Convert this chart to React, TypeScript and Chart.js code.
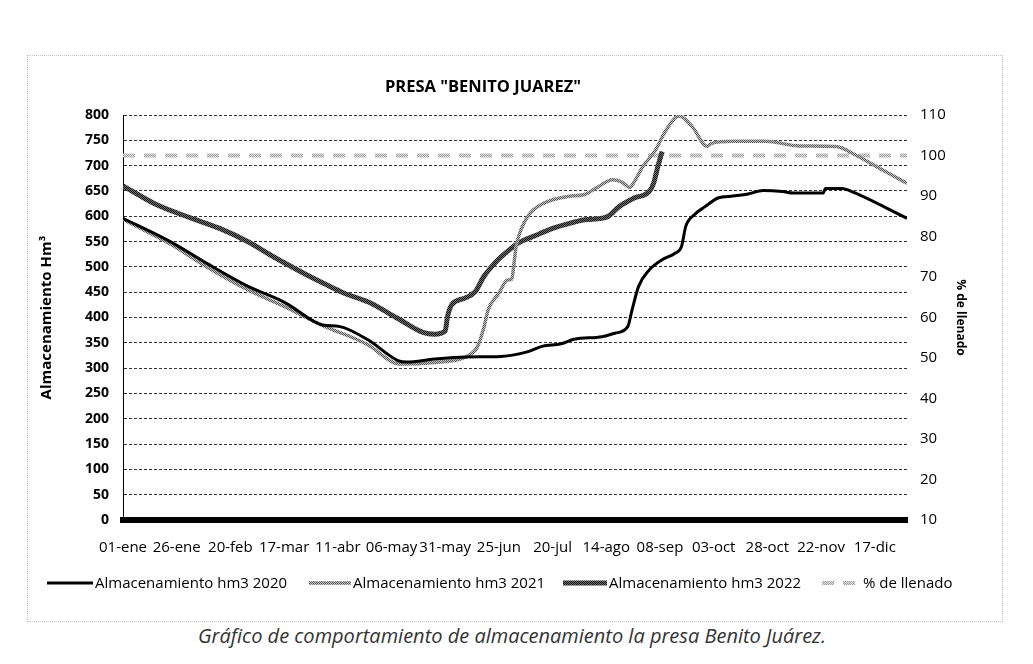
import React, { useEffect, useRef } from "react";
import { Chart, registerables } from "chart.js";

Chart.register(...registerables);

// ---------- DATA ----------
const xTickLabels = [
  "01-ene", "26-ene", "20-feb", "17-mar", "11-abr", "06-may", "31-may", "25-jun",
  "20-jul", "14-ago", "08-sep", "03-oct", "28-oct", "22-nov", "17-dic",
];

const days2020 = [0, 22, 39, 58, 76, 89, 93, 101, 114, 128, 132, 145, 160, 176, 189, 195, 204, 210, 223, 229, 235, 237, 240, 245, 251, 257, 260, 262, 266, 271, 277, 284, 291, 298, 307, 312, 326, 327, 335, 338, 365];
const storage2020 = [596, 550, 507, 462, 428, 392, 385, 382, 356, 315, 312, 318, 322, 323, 333, 343, 348, 357, 362, 369, 382, 415, 461, 494, 514, 527, 540, 580, 603, 619, 636, 640, 644, 651, 649, 646, 646, 655, 655, 651, 596];

const days2021 = [0, 22, 39, 58, 76, 89, 98, 103, 114, 126, 131, 145, 157, 162, 165, 168, 170, 175, 179, 181, 182, 183, 185, 189, 196, 207, 215, 220, 228, 232, 236, 238, 242, 248, 252, 257, 259, 265, 272, 274, 284, 299, 315, 332, 341, 350, 365];
const storage2021 = [594, 545, 500, 455, 420, 392, 375, 367, 346, 311, 308, 311, 318, 328, 342, 380, 415, 448, 474, 476, 505, 540, 570, 603, 626, 639, 643, 655, 672, 668, 657, 668, 698, 731, 764, 794, 798, 777, 738, 744, 748, 748, 739, 738, 721, 700, 665];

const days2022 = [0, 16, 30, 45, 58, 70, 83, 95, 103, 114, 128, 140, 145, 150, 151, 153, 159, 164, 168, 173, 178, 184, 192, 200, 207, 215, 223, 226, 231, 238, 245, 247, 249, 251];
const storage2022 = [660, 622, 599, 576, 550, 520, 490, 464, 448, 431, 398, 370, 367, 373, 400, 425, 438, 451, 481, 507, 527, 547, 562, 576, 585, 593, 596, 600, 619, 636, 649, 665, 698, 728];

const pctDays = [0, 365];
const pctValues = [100, 100];

const seriesLabels = [
  "Almacenamiento hm3 2020",
  "Almacenamiento hm3 2021",
  "Almacenamiento hm3 2022",
  "% de llenado",
];

const FONT = "'Open Sans', sans-serif";

function toPoints(xs: number[], ys: number[]) {
  return xs.map((x, i) => ({ x, y: ys[i] }));
}

function makePattern(a: string, b: string) {
  const c = document.createElement("canvas");
  c.width = 2;
  c.height = 2;
  const g = c.getContext("2d")!;
  g.fillStyle = b;
  g.fillRect(0, 0, 2, 2);
  g.fillStyle = a;
  g.fillRect(0, 0, 1, 1);
  g.fillRect(1, 1, 1, 1);
  const ctx = document.createElement("canvas").getContext("2d")!;
  return ctx.createPattern(c, "repeat") as CanvasPattern;
}

// legend layout (canvas coords)
const legendLayout = [
  { x1: 20, x2: 66, tx: 68 },
  { x1: 282, x2: 324, tx: 326 },
  { x1: 536, x2: 580, tx: 582 },
  { x1: 795, x2: 834, tx: 836 },
];

const overlayPlugin = {
  id: "overlay",
  afterDraw(chart: any) {
    const ctx = chart.ctx as CanvasRenderingContext2D;
    ctx.save();
    // title
    ctx.font = `bold 16.5px ${FONT}`;
    ctx.fillStyle = "#000";
    ctx.textAlign = "center";
    ctx.textBaseline = "middle";
    ctx.fillText('PRESA "BENITO JUAREZ"', 456, 32);
    // legend
    ctx.font = `15px ${FONT}`;
    ctx.textAlign = "left";
    const ly = 528;
    chart.data.datasets.forEach((ds: any, i: number) => {
      const l = legendLayout[i];
      ctx.save();
      ctx.strokeStyle = ds.borderColor;
      ctx.lineWidth = ds.borderWidth;
      ctx.setLineDash(ds.borderDash || []);
      ctx.beginPath();
      ctx.moveTo(l.x1, ly);
      ctx.lineTo(l.x2, ly);
      ctx.stroke();
      ctx.restore();
      ctx.fillStyle = "#000";
      ctx.fillText(ds.label, l.tx, ly + 1);
    });
    ctx.restore();
  },
};

export default function App() {
  const ref = useRef<HTMLCanvasElement | null>(null);

  useEffect(() => {
    if (!ref.current) return;
    const pat2021 = makePattern("#555555", "#c4c4c4");
    const pat2022 = makePattern("#151515", "#6e6e6e");
    const patPct = makePattern("#9a9a9a", "#e6e6e6");

    const chart = new Chart(ref.current, {
      type: "line",
      data: {
        datasets: [
          {
            label: seriesLabels[0],
            data: toPoints(days2020, storage2020),
            borderColor: "#000",
            borderWidth: 3,
            pointRadius: 0,
            cubicInterpolationMode: "monotone",
            yAxisID: "y",
          },
          {
            label: seriesLabels[1],
            data: toPoints(days2021, storage2021),
            borderColor: pat2021,
            borderWidth: 3.5,
            pointRadius: 0,
            cubicInterpolationMode: "monotone",
            yAxisID: "y",
          },
          {
            label: seriesLabels[2],
            data: toPoints(days2022, storage2022),
            borderColor: pat2022,
            borderWidth: 5,
            pointRadius: 0,
            cubicInterpolationMode: "monotone",
            yAxisID: "y",
          },
          {
            label: seriesLabels[3],
            data: toPoints(pctDays, pctValues),
            borderColor: patPct,
            borderWidth: 4,
            borderDash: [12, 9],
            pointRadius: 0,
            yAxisID: "y1",
          },
        ] as any,
      },
      options: {
        animation: false,
        responsive: false,
        devicePixelRatio: 1,
        layout: { padding: { top: 60, left: 0, right: 0, bottom: 0 } },
        plugins: {
          legend: { display: false },
          title: { display: false },
          tooltip: { enabled: false },
        },
        scales: {
          x: {
            type: "linear",
            min: 0,
            max: 365,
            grid: { display: false },
            border: { display: true, color: "#000", width: 6 },
            afterBuildTicks: (axis: any) => {
              axis.ticks = axis.ticks.filter((t: any) => t.value % 25 === 0);
            },
            afterFit: (s: any) => {
              s.height = 102;
            },
            ticks: {
              stepSize: 25,
              includeBounds: false,
              autoSkip: false,
              maxRotation: 0,
              padding: 11,
              color: "#000",
              font: { family: FONT, size: 15 },
              callback: (v: any) => xTickLabels[Math.round(Number(v) / 25)] ?? "",
            },
          },
          y: {
            position: "left",
            min: 0,
            max: 800,
            afterFit: (s: any) => {
              s.width = 96;
            },
            grid: { color: "#333", lineWidth: 1, drawTicks: false },
            border: { display: true, color: "#000", width: 1, dash: [3, 2] },
            ticks: {
              stepSize: 50,
              padding: 14,
              color: "#000",
              font: { family: FONT, size: 14, weight: "bold" },
            },
            title: {
              display: true,
              text: "Almacenamiento Hm³",
              color: "#000",
              font: { family: FONT, size: 15, weight: "bold" },
              padding: { top: 11, bottom: 0 },
            },
          },
          y1: {
            position: "right",
            min: 10,
            max: 110,
            afterFit: (s: any) => {
              s.width = 96;
            },
            grid: { drawOnChartArea: false, drawTicks: false },
            border: { display: false },
            ticks: {
              stepSize: 10,
              padding: 13,
              color: "#000",
              font: { family: FONT, size: 15 },
            },
            title: {
              display: true,
              text: "% de llenado",
              color: "#000",
              font: { family: FONT, size: 12, weight: "bold" },
              padding: { top: 35, bottom: 0 },
            },
          },
        },
      } as any,
      plugins: [overlayPlugin],
    });
    return () => chart.destroy();
  }, []);

  return (
    <div style={{ position: "relative", width: 1017, height: 648, fontFamily: FONT }}>
      <div
        style={{
          position: "absolute",
          left: 19,
          top: 47,
          width: 976,
          height: 567,
          border: "1px dotted #c4c4c4",
          boxSizing: "border-box",
        }}
      />
      <canvas
        ref={ref}
        width={976}
        height={567}
        style={{ position: "absolute", left: 19, top: 47, width: 976, height: 567 }}
      />
      <div
        style={{
          position: "absolute",
          left: 0,
          top: 614,
          width: 1008,
          textAlign: "center",
          fontStyle: "italic",
          fontSize: 20,
          lineHeight: "28px",
          color: "#333",
        }}
      >
        Gráfico de comportamiento de almacenamiento la presa Benito Juárez.
      </div>
    </div>
  );
}
